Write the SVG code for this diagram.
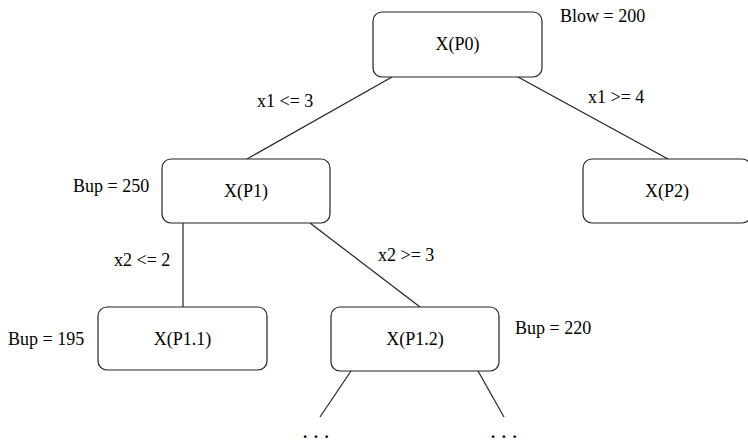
<svg xmlns="http://www.w3.org/2000/svg" width="748" height="442" viewBox="0 0 748 442">
  <style>
    .box { fill: #ffffff; stroke: #222222; stroke-width: 1.2; }
    .edge { stroke: #222222; stroke-width: 1.2; fill: none; }
    .t { font-family: "Liberation Serif", "Times New Roman", serif; font-size: 18px; fill: #000000; }
    .mid { text-anchor: middle; }
    .dots { font-size: 17px; font-weight: bold; letter-spacing: 6.5px; }
  </style>
  <rect width="748" height="442" fill="#ffffff"/>

  <!-- connectors -->
  <g id="edges">
    <line class="edge" x1="392" y1="77" x2="247" y2="159"/>
    <line class="edge" x1="518" y1="77" x2="668" y2="159"/>
    <line class="edge" x1="183" y1="223" x2="183" y2="307"/>
    <line class="edge" x1="310" y1="223" x2="420" y2="307"/>
    <line class="edge" x1="351" y1="371" x2="320" y2="417"/>
    <line class="edge" x1="478" y1="371" x2="504" y2="417"/>
  </g>

  <!-- branch conditions -->
  <g id="edge-labels" font-family="Liberation Serif, Times New Roman, serif">
    <text class="t" x="257" y="107">x1 &lt;= 3</text>
    <text class="t" x="588" y="103">x1 &gt;= 4</text>
    <text class="t" x="114" y="266">x2 &lt;= 2</text>
    <text class="t" x="378" y="261">x2 &gt;= 3</text>
  </g>

  <g id="P0" font-family="Liberation Serif, Times New Roman, serif">
    <rect class="box" x="373" y="12" width="169" height="65" rx="9"/>
    <text class="t mid" x="457.500" y="50">X(P0)</text>
    <text class="t" x="560" y="22">Blow = 200</text>
  </g>

  <g id="P1" font-family="Liberation Serif, Times New Roman, serif">
    <rect class="box" x="162" y="159" width="168" height="64" rx="9"/>
    <text class="t mid" x="246" y="197">X(P1)</text>
    <text class="t" x="73" y="192">Bup = 250</text>
  </g>

  <g id="P2" font-family="Liberation Serif, Times New Roman, serif">
    <rect class="box" x="583" y="159" width="168" height="64" rx="9"/>
    <text class="t mid" x="667" y="197">X(P2)</text>
  </g>

  <g id="P1.1" font-family="Liberation Serif, Times New Roman, serif">
    <rect class="box" x="98" y="307" width="169" height="63" rx="9"/>
    <text class="t mid" x="182.500" y="345">X(P1.1)</text>
    <text class="t" x="8" y="345">Bup = 195</text>
  </g>

  <g id="P1.2" font-family="Liberation Serif, Times New Roman, serif">
    <rect class="box" x="331" y="307" width="168" height="64" rx="9"/>
    <text class="t mid" x="415" y="345">X(P1.2)</text>
    <text class="t" x="515" y="334">Bup = 220</text>
  </g>

  <g id="continuation" font-family="Liberation Serif, Times New Roman, serif">
    <text class="t dots" x="303" y="438">...</text>
    <text class="t dots" x="491" y="438">...</text>
  </g>
</svg>
